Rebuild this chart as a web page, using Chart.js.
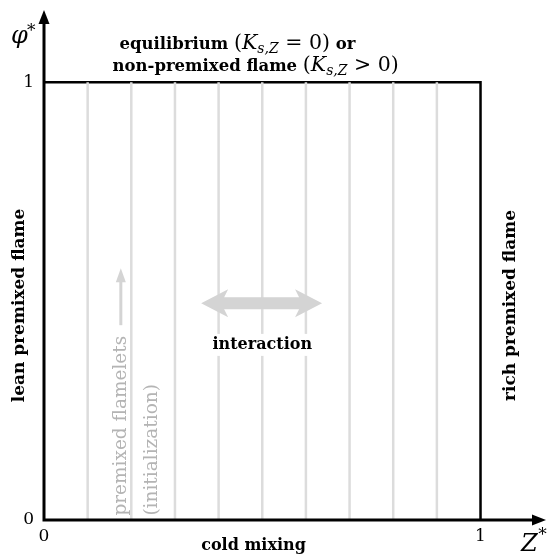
<!DOCTYPE html>
<html>
<head>
<meta charset="utf-8">
<script src="https://cdn.jsdelivr.net/npm/chart.js@4.4.1/dist/chart.umd.min.js"></script>
<style>
html,body{margin:0;padding:0;background:#fff;}
#wrap{width:548px;height:557px;}
</style>
</head>
<body>
<div id="wrap"><canvas id="c" width="548" height="557"></canvas></div>
<script>
// ---- data ----
const flameletZ = [0.1, 0.2, 0.3, 0.4, 0.5, 0.6, 0.7, 0.8, 0.9];
const boxZ = [0, 1, 1];
const boxPhi = [1, 1, 0];
const xTickValues = [0, 1];
const yTickValues = [0, 1];
const axisLabels = { x: 'Z', y: 'φ' };
const regionLabels = {
  bottom: 'cold mixing',
  left: 'lean premixed flame',
  right: 'rich premixed flame',
  middle: 'interaction',
  flamelets: 'premixed flamelets',
  init: '(initialization)'
};

const SERIF = '"DejaVu Serif", serif';
const GRAY = '#d4d4d4';

const datasets = flameletZ.map(z => ({
  data: [{x: z, y: 0}, {x: z, y: 1}],
  showLine: true, borderColor: '#dcdcdc', borderWidth: 2.5,
  pointRadius: 0, clip: false
}));
datasets.push({
  data: boxZ.map((z, i) => ({x: z, y: boxPhi[i]})),
  showLine: true, borderColor: '#000', borderWidth: 2.5,
  pointRadius: 0, clip: false
});

function drawSegments(ctx, segs, x, cy) {
  ctx.textAlign = 'left';
  ctx.textBaseline = 'alphabetic';
  segs.forEach(s => {
    ctx.font = s.f;
    ctx.fillText(s.t, x, cy + (s.dy || 0));
    x += ctx.measureText(s.t).width;
  });
}

function arrowHead(ctx, tipX, tipY, dx, dy, len, half) {
  const px = -dy, py = dx;
  ctx.beginPath();
  ctx.moveTo(tipX, tipY);
  ctx.lineTo(tipX - dx * len + px * half, tipY - dy * len + py * half);
  ctx.lineTo(tipX - dx * len - px * half, tipY - dy * len - py * half);
  ctx.closePath();
  ctx.fill();
}

const decor = {
  id: 'decor',
  afterDatasetsDraw(chart) {
    const ctx = chart.ctx;
    const xs = chart.scales.x, ys = chart.scales.y;
    const X = v => xs.getPixelForValue(v), Y = v => ys.getPixelForValue(v);
    const x0 = X(0), y0 = Y(0);
    const xEnd = X(xs.max), yEnd = Y(ys.max);
    ctx.save();
    // axes
    ctx.strokeStyle = '#000'; ctx.fillStyle = '#000'; ctx.lineWidth = 3;
    ctx.beginPath();
    ctx.moveTo(x0, y0 + 1.5); ctx.lineTo(x0, yEnd + 10);
    ctx.moveTo(x0 - 1.5, y0); ctx.lineTo(xEnd - 10, y0);
    ctx.stroke();
    arrowHead(ctx, x0, yEnd, 0, -1, 14, 5.5);
    arrowHead(ctx, xEnd, y0, 1, 0, 14, 5.5);

    // tick labels
    ctx.font = '17px ' + SERIF;
    ctx.textAlign = 'center'; ctx.textBaseline = 'middle';
    xTickValues.forEach(v => ctx.fillText(String(v), X(v), y0 + 17));
    ctx.textAlign = 'right';
    yTickValues.forEach(v => ctx.fillText(String(v), x0 - 10, Y(v)));

    // axis symbols
    ctx.font = 'italic 24px ' + SERIF;
    ctx.textAlign = 'left'; ctx.textBaseline = 'alphabetic';
    ctx.fillText(axisLabels.y, 11, Y(1.09));
    ctx.fillText(axisLabels.x, X(1.093), y0 + 31);
    ctx.font = '17px ' + SERIF;
    ctx.fillText('*', 27, Y(1.105));
    ctx.fillText('*', X(1.132), y0 + 20);

    // title
    const B = 'bold 16.5px ' + SERIF, R = '20.5px ' + SERIF, I = 'italic 20.5px ' + SERIF, S = 'italic 14px ' + SERIF;
    drawSegments(ctx, [
      {t: 'equilibrium ', f: B}, {t: '(', f: R}, {t: 'K', f: I}, {t: 's,Z', f: S, dy: 4},
      {t: ' = 0)', f: R}, {t: ' or', f: B}
    ], X(0.173), Y(1.075));
    drawSegments(ctx, [
      {t: 'non-premixed flame ', f: B}, {t: '(', f: R}, {t: 'K', f: I}, {t: 's,Z', f: S, dy: 4},
      {t: ' > 0)', f: R}
    ], X(0.157), Y(1.025));

    // cold mixing
    ctx.font = 'bold 16px ' + SERIF;
    ctx.textAlign = 'center'; ctx.textBaseline = 'middle';
    ctx.fillText(regionLabels.bottom, X(0.48), Y(-0.06));

    // rotated side labels
    const rot = (txt, x, y, font, color, align) => {
      ctx.save();
      ctx.translate(x, y); ctx.rotate(-Math.PI / 2);
      ctx.font = font; ctx.fillStyle = color;
      ctx.textAlign = align; ctx.textBaseline = 'middle';
      ctx.fillText(txt, 0, 0);
      ctx.restore();
    };
    rot(regionLabels.left, X(-0.057), Y(0.49), 'bold 17px ' + SERIF, '#000', 'center');
    rot(regionLabels.right, X(1.068), Y(0.49), 'bold 17px ' + SERIF, '#000', 'center');

    // interaction text with white background
    ctx.font = 'bold 16px ' + SERIF;
    const iw = ctx.measureText(regionLabels.middle).width;
    ctx.fillStyle = '#fff';
    ctx.fillRect(X(0.5) - iw / 2 - 3, Y(0.4) - 11, iw + 6, 22);
    ctx.fillStyle = '#000';
    ctx.textAlign = 'center'; ctx.textBaseline = 'middle';
    ctx.fillText(regionLabels.middle, X(0.5), Y(0.4));

    // double arrow
    ctx.fillStyle = GRAY;
    const ay = Y(0.495), ax1 = X(0.36), ax2 = X(0.637);
    const hl = 27, hh = 14, sh = 6;
    ctx.beginPath();
    ctx.moveTo(ax1, ay);
    ctx.lineTo(ax1 + hl, ay - hh);
    ctx.lineTo(ax1 + hl - 4, ay - sh);
    ctx.lineTo(ax2 - hl + 4, ay - sh);
    ctx.lineTo(ax2 - hl, ay - hh);
    ctx.lineTo(ax2, ay);
    ctx.lineTo(ax2 - hl, ay + hh);
    ctx.lineTo(ax2 - hl + 4, ay + sh);
    ctx.lineTo(ax1 + hl - 4, ay + sh);
    ctx.lineTo(ax1 + hl, ay + hh);
    ctx.closePath();
    ctx.fill();

    // flamelets arrow
    const fx = X(0.176);
    ctx.strokeStyle = GRAY; ctx.lineWidth = 3;
    ctx.beginPath(); ctx.moveTo(fx, Y(0.445)); ctx.lineTo(fx, Y(0.56)); ctx.stroke();
    arrowHead(ctx, fx, Y(0.575), 0, -1, 14, 5);

    // flamelet texts
    rot(regionLabels.flamelets, X(0.176), Y(0.01), '18.5px ' + SERIF, '#b4b4b4', 'left');
    rot(regionLabels.init, X(0.247), Y(0.01), '18.5px ' + SERIF, '#b4b4b4', 'left');
    ctx.restore();
  }
};

new Chart(document.getElementById('c'), {
  type: 'scatter',
  data: { datasets },
  options: {
    responsive: false,
    animation: false,
    devicePixelRatio: 1,
    layout: { padding: { left: 44, right: 2, top: 10, bottom: 37 } },
    plugins: { legend: { display: false }, tooltip: { enabled: false } },
    scales: {
      x: { type: 'linear', min: 0, max: 1.15, display: false },
      y: { type: 'linear', min: 0, max: 1.165, display: false }
    }
  },
  plugins: [decor]
});
</script>
</body>
</html>
